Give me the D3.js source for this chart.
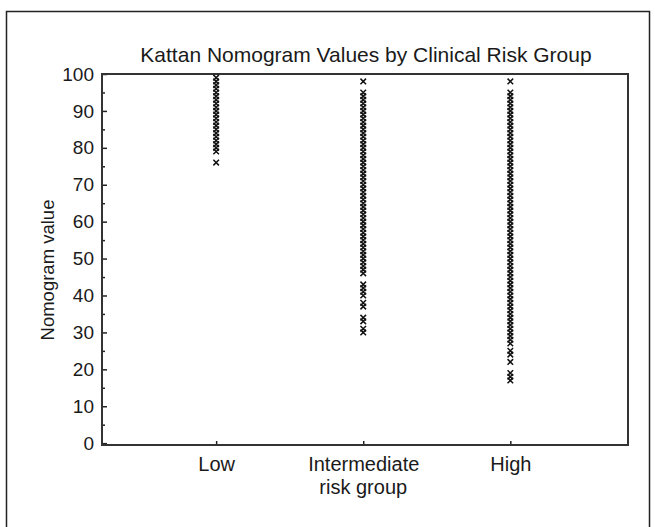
<!DOCTYPE html>
<html>
<head>
<meta charset="utf-8">
<script src="https://cdn.jsdelivr.net/npm/d3@7.9.0/dist/d3.min.js"></script>
<style>
  body { margin: 0; background: #fff; }
  svg text { font-family: "Liberation Sans", Arial, sans-serif; fill: #1a1a1a; }
</style>
</head>
<body>
<svg width="655" height="527"></svg>
<script>
// values
const groups = ['Low', 'Intermediate', 'High'];
const lowValues = [76, 79, 80, 81, 82, 83, 84, 85, 86, 87, 88, 89, 90, 91, 92, 93, 94, 95, 96, 97, 98, 99];
const intermediateValues = [98, 95, 94, 93, 92, 91, 90, 89, 88, 87, 86, 85, 84, 83, 82, 81, 80, 79, 78, 77, 76,
  75, 74, 73, 72, 71, 70, 69, 68, 67, 66, 65, 64, 63, 62, 61, 60, 59, 58, 57, 56, 55, 54, 53, 52, 51, 50,
  49, 48, 47, 46, 43, 42, 41, 40, 38, 37, 34, 33, 31, 30];
const highValues = [98, 95, 94, 93, 92, 91, 90, 89, 88, 87, 86, 85, 84, 83, 82, 81, 80, 79, 78, 77, 76,
  75, 74, 73, 72, 71, 70, 69, 68, 67, 66, 65, 64, 63, 62, 61, 60, 59, 58, 57, 56, 55, 54, 53, 52, 51, 50,
  49, 48, 47, 46, 45, 44, 43, 42, 41, 40, 39, 38, 37, 36, 35, 34, 33, 32, 31, 30, 29, 28, 27,
  25, 24, 22, 19, 18, 17];
const yTicks = [0, 10, 20, 30, 40, 50, 60, 70, 80, 90, 100];
const yMinor = [5, 15, 25, 35, 45, 55, 65, 75, 85, 95];

const svg = d3.select('svg');
const plotLeft = 102, plotRight = 628, plotTop = 74, plotBottom = 445;

// outer frame
svg.append('rect')
  .attr('x', 6.5).attr('y', 11.5)
  .attr('width', 643).attr('height', 540)
  .attr('fill', 'none').attr('stroke', '#222').attr('stroke-width', 1.5);

let x = d3.scaleLinear().domain([0.224, 3.8]).range([plotLeft, plotRight]);
let y = d3.scaleLinear().domain([-0.5, 100]).range([plotBottom, plotTop]);

// title
svg.append('text')
  .attr('x', 366).attr('y', 62)
  .attr('text-anchor', 'middle')
  .style('font-size', '21px')
  .text('Kattan Nomogram Values by Clinical Risk Group');

// y axis
let yAxis = svg.append('g')
  .attr('transform', `translate(${plotLeft},0)`)
  .call(d3.axisLeft(y).tickValues(yTicks).tickSize(-5).tickPadding(8));
yAxis.selectAll('text').style('font-size', '19px');
yAxis.select('.domain').remove();
yAxis.selectAll('line').attr('stroke', '#222').attr('stroke-width', 1.5);

svg.append('g')
  .attr('transform', `translate(${plotLeft},0)`)
  .call(d3.axisLeft(y).tickValues(yMinor).tickSize(-3).tickFormat(''))
  .call(g => g.select('.domain').remove())
  .selectAll('line').attr('stroke', '#222').attr('stroke-width', 1.5);

// x axis
let xAxis = svg.append('g')
  .attr('transform', `translate(0,${plotBottom})`)
  .call(d3.axisBottom(x).tickValues([1, 2, 3]).tickFormat((d) => groups[d - 1]).tickSize(-4).tickPadding(12));
xAxis.selectAll('text').style('font-size', '20px');
xAxis.select('.domain').remove();
xAxis.selectAll('line').attr('stroke', '#222').attr('stroke-width', 1.5);

// plot box
svg.append('rect')
  .attr('x', plotLeft).attr('y', plotTop)
  .attr('width', plotRight - plotLeft).attr('height', plotBottom - plotTop)
  .attr('fill', 'none').attr('stroke', '#333').attr('stroke-width', 2);

// axis titles
svg.append('text')
  .attr('x', x(2)).attr('y', 494)
  .attr('text-anchor', 'middle')
  .style('font-size', '20px')
  .text('risk group');

svg.append('text')
  .attr('transform', `translate(54,270) rotate(-90)`)
  .attr('text-anchor', 'middle')
  .style('font-size', '18.5px')
  .text('Nomogram value');

// points
let points = [];
[lowValues, intermediateValues, highValues].forEach((vals, i) => {
  vals.forEach((v) => points.push({ group: i + 1, value: v }));
});

let marker = d3.symbol().type(d3.symbolX).size(22);
svg.append('g')
  .selectAll('path')
  .data(points)
  .join('path')
  .attr('transform', (d) => `translate(${x(d.group)},${y(d.value)})`)
  .attr('d', marker)
  .attr('fill', 'none')
  .attr('stroke', '#111')
  .attr('stroke-width', 1.5);
</script>
</body>
</html>
